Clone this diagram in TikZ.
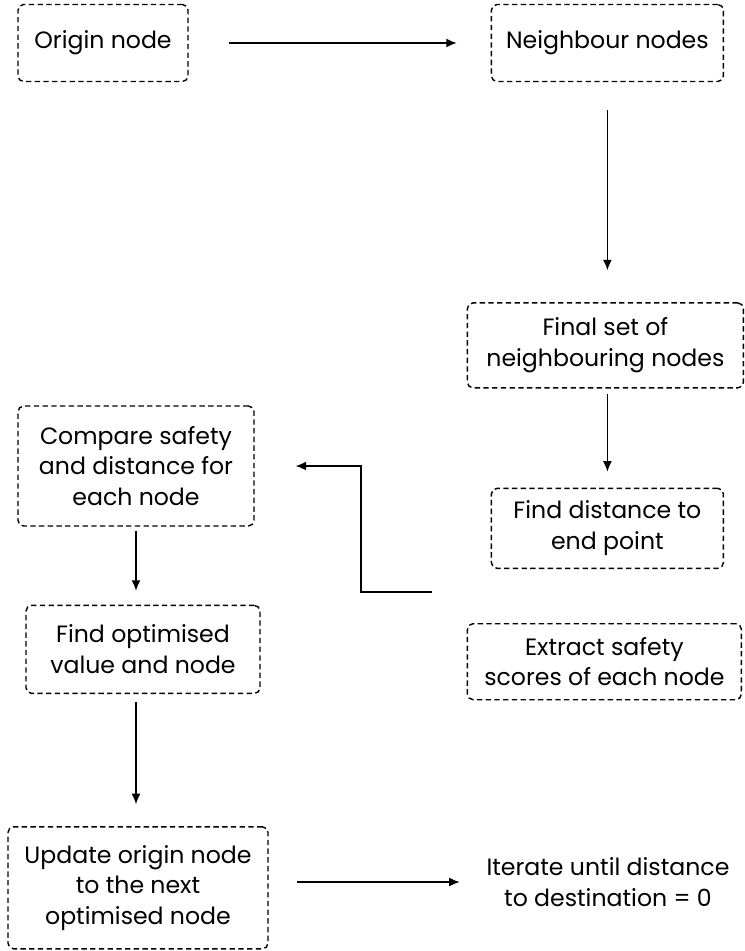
\documentclass[tikz,border=0pt]{standalone}
\usepackage{fontspec}
\setmainfont{Poppins}
\usepackage{tikz}
\usetikzlibrary{positioning, arrows.meta}

\tikzset{
  stepbox/.style={draw, dashed, dash pattern=on 3.8pt off 2.4pt, line width=1pt,
    rounded corners=4pt, align=center, inner sep=2pt},
  flow/.style={-{Latex[length=2.6mm, width=2.2mm]}, line width=0.8pt}
}

\begin{document}
\begin{tikzpicture}[node distance=1cm, font=\fontsize{16.8}{21.8}\selectfont]

        \useasboundingbox (0,0) rectangle (18.625,-23.775);

        % Boites
        \node [stepbox, minimum width=4.25cm, minimum height=1.925cm] (origin) at (2.575,-1.075) {Origin node};
        \node [stepbox, right=7.55cm of origin, minimum width=5.8cm, minimum height=1.925cm] (neighbour) {Neighbour nodes};
        \node [stepbox, below=5.5cm of neighbour, xshift=-0.05cm, minimum width=6.9cm, minimum height=2.125cm] (finalset) {Final set of\\neighbouring nodes};
        \node [stepbox, below=2.475cm of finalset, xshift=0.05cm, minimum width=5.8cm, minimum height=2cm] (distance) {Find distance to\\end point};
        \node [stepbox, below=1.35cm of distance, xshift=-0.075cm, minimum width=6.85cm, minimum height=1.9cm] (safety) {Extract safety\\scores of each node};
        \node [stepbox, minimum width=5.9cm, minimum height=3cm] (compare) at (3.4,-11.65) {Compare safety\\and distance for\\each node};
        \node [stepbox, below=1.95cm of compare, xshift=0.175cm, minimum width=5.85cm, minimum height=2.2cm] (optimised) {Find optimised\\value and node};
        \node [stepbox, below=3.3cm of optimised, xshift=-0.125cm, minimum width=6.5cm, minimum height=3.05cm] (update) {Update origin node\\to the next\\optimised node};
        \node [align=center] (iterate) at (15.2,-22.05) {Iterate until distance\\to destination = 0};
        \coordinate (merge) at (10.8,-14.8);
        \coordinate (corner) at (9.025,-14.8);

        % Fleches
        \draw [flow, shorten <=1cm, shorten >=0.85cm] (origin) -- (neighbour);
        \draw [flow, shorten <=0.7cm, shorten >=0.8cm] (neighbour) -- (neighbour |- finalset.north);
        \draw [flow, shorten <=0.125cm, shorten >=0.4cm] (neighbour |- finalset.south) -- (neighbour |- distance.north);
        \draw [flow, shorten >=1.025cm] (merge) -- (corner) |- (compare.east);
        \draw [flow, shorten <=0.1cm, shorten >=0.35cm] (compare) -- (compare.south |- optimised.north);
        \draw [flow, shorten <=0.2cm, shorten >=0.55cm] (compare.south |- optimised.south) -- (compare.south |- update.north);
        \draw [flow, shorten <=0.7cm, shorten >=0.55cm] (update.east |- iterate) -- (iterate.west);

    \end{tikzpicture}
\end{document}
